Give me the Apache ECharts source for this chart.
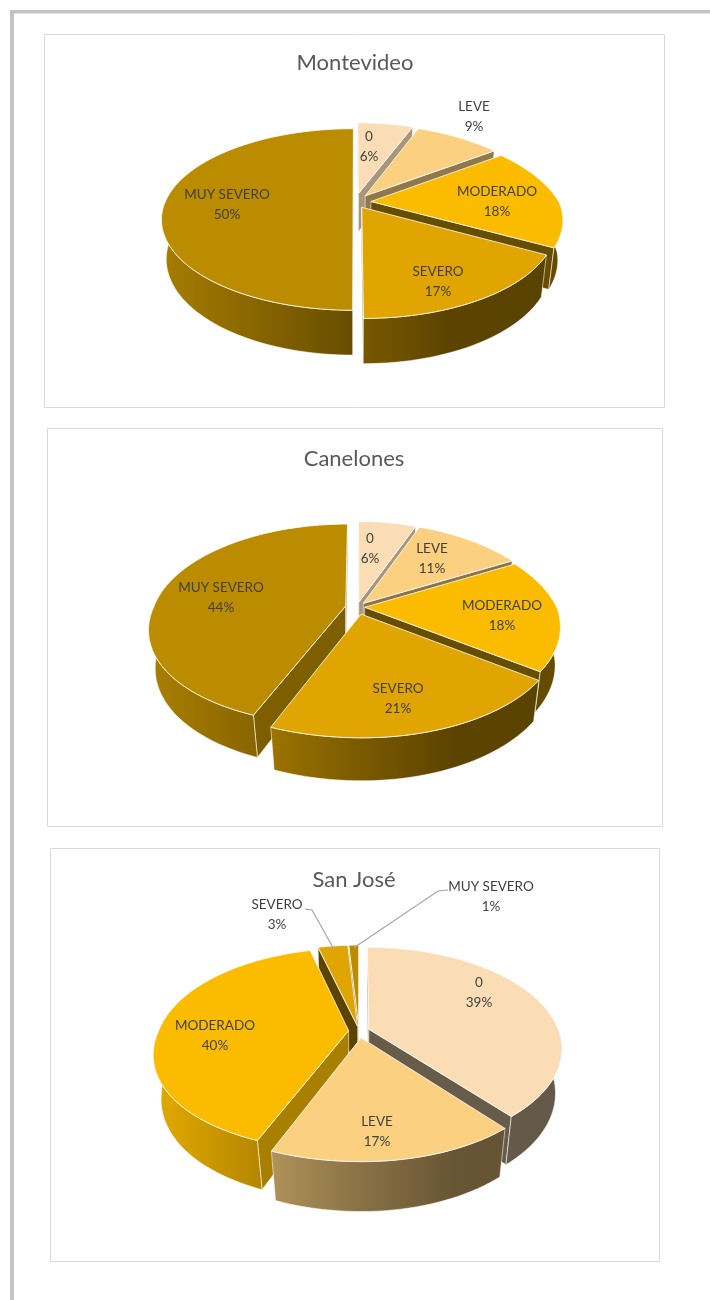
<!DOCTYPE html>
<html>
<head>
<meta charset="utf-8">
<style>html,body{margin:0;padding:0;background:#fff}#chart{width:710px;height:1300px}</style>
<script src="https://cdn.jsdelivr.net/npm/echarts@6/dist/echarts.min.js"></script>
</head>
<body>
<div id="chart"></div>
<script>
// Severity categories shared by the three departments
const categories = ['0', 'LEVE', 'MODERADO', 'SEVERO', 'MUY SEVERO'];

// Percentage of cases per category
const valuesMontevideo = [6, 9, 18, 17, 50];
const valuesCanelones = [6, 11, 18, 21, 44];
const valuesSanJose = [39, 17, 40, 3, 1];

const departments = ['Montevideo', 'Canelones', 'San José'];

// Fill of each category's top face
const sliceColors = ['#FADDB4', '#FBD080', '#FBBC00', '#E0A500', '#BB8C00'];

// Drawing layout of each pie: panel box, projection and per-slice offsets
const layouts = [
  { box: [44, 34, 620, 373], title: [355, 63], cx: 355, cy: 202, radius: 188, tilt: 0.465, depth: 0.24, rearDist: 3.5, frontLeftDist: 4.6,
    explode: [0.10, 0.09, 0.085, 0.07, 0.01],
    labels: [[369, 147], [474, 117], [497, 202], [438, 282], [227, 205]] },
  { box: [47, 428, 615, 398], title: [354, 459], cx: 357, cy: 607, radius: 192, tilt: 0.508, depth: 0.235, rearDist: 3.6, frontLeftDist: 3.8,
    explode: [0.05, 0.05, 0.04, 0.075, 0.06],
    labels: [[370, 549], [432, 559], [502, 616], [398, 699], [221, 598]] },
  { box: [50, 848, 609, 413], title: [354, 880], cx: 359, cy: 1031, radius: 190, tilt: 0.515, depth: 0.28, rearDist: 4.6, frontLeftDist: 3.8,
    explode: [0.055, 0.07, 0.055, 0.05, 0.05],
    labels: [[479, 993], [377, 1132], [215, 1036], [277, 915], [491, 897]],
    leaders: { 3: [[305, 909], [312, 910]], 4: [[448, 890], [438, 891]] } }
];
const allValues = [valuesMontevideo, valuesCanelones, valuesSanJose];

const CAMERA_DIST = 4.6;
const ARC_STEP = Math.PI / 90;

function shade(hex, k) {
  const n = parseInt(hex.slice(1), 16);
  const c = [(n >> 16) & 255, (n >> 8) & 255, n & 255].map(v => Math.round(v * k));
  return 'rgb(' + c.join(',') + ')';
}

// Curved sides darken from left to right across the whole pie
function sideFill(color, L) {
  return {
    type: 'linear', global: true,
    x: L.cx - L.radius, y: 0, x2: L.cx + L.radius, y2: 0,
    colorStops: [
      { offset: 0, color: shade(color, 0.88) },
      { offset: 0.5, color: shade(color, 0.55) },
      { offset: 0.75, color: shade(color, 0.41) },
      { offset: 1, color: shade(color, 0.40) }
    ]
  };
}

// Cut faces are lit according to the direction they face (degrees, clockwise from the back)
function wallFill(color, normal) {
  const t = Math.min(1, Math.max(0, (normal - 110) / 90));
  return shade(color, 0.68 - 0.27 * t);
}

function makeProjector(L) {
  const sinE = L.tilt, cosE = Math.sqrt(1 - sinE * sinE);
  return function (x, y, z) {
    const w = y * cosE + z * sinE;
    const v = -y * sinE + z * cosE;
    const f = 1 / (1 - w / CAMERA_DIST);
    // Horizontal foreshortening differs slightly in the rear right and front left quarters
    let fx = f;
    if (x > 0 && w < 0) fx = 1 / (1 - w / L.rearDist);
    if (x < 0 && w > 0) fx = 1 / (1 - w / L.frontLeftDist);
    return [L.cx + L.radius * x * fx, L.cy - L.radius * v * f];
  };
}

// Builds the geometry of every slice from the values
function buildSlices(values, L) {
  const total = values.reduce((a, b) => a + b, 0);
  let acc = 0;
  return values.map((v, i) => {
    const a0 = acc / total * Math.PI * 2;
    acc += v;
    const a1 = acc / total * Math.PI * 2;
    const mid = (a0 + a1) / 2;
    const e = L.explode[i];
    return { index: i, value: v, a0, a1, mid, ox: e * Math.sin(mid), oy: -e * Math.cos(mid) };
  });
}

function sliceElements(s, L) {
  const P = makeProjector(L);
  const color = sliceColors[s.index];
  const h = L.depth;
  const n = Math.max(2, Math.ceil((s.a1 - s.a0) / ARC_STEP));
  const rim = [];
  for (let k = 0; k <= n; k++) {
    const a = s.a0 + (s.a1 - s.a0) * k / n;
    rim.push([s.ox + Math.sin(a), s.oy - Math.cos(a)]);
  }
  const els = [];
  const edge = 'rgba(255,255,255,0.7)';
  const sinE = L.tilt, cosE = Math.sqrt(1 - sinE * sinE);
  const cam = [0, cosE * CAMERA_DIST, sinE * CAMERA_DIST];
  const tip = [s.ox, s.oy];

  // Cut faces, drawn only when they turn towards the camera
  const wall = (p, nx, ny, normalDeg) => {
    const facing = nx * (cam[0] - p[0]) + ny * (cam[1] - p[1]) > 0;
    if (!facing) return;
    els.push({
      type: 'polygon', silent: true,
      shape: { points: [P(tip[0], tip[1], 0), P(p[0], p[1], 0), P(p[0], p[1], -h), P(tip[0], tip[1], -h)] },
      style: { fill: wallFill(color, normalDeg), stroke: edge, lineWidth: 0.8 }
    });
  };
  const deg = 180 / Math.PI;
  wall(rim[0], -Math.cos(s.a0), -Math.sin(s.a0), (s.a0 * deg - 90 + 360) % 360);
  wall(rim[n], Math.cos(s.a1), Math.sin(s.a1), (s.a1 * deg + 90) % 360);

  // Outer curved band on the near half of the disc
  const near = rim.filter(p => p[1] - s.oy > -0.02);
  if (near.length > 1) {
    const pts = near.map(p => P(p[0], p[1], 0)).concat(near.slice().reverse().map(p => P(p[0], p[1], -h)));
    els.push({
      type: 'polygon', silent: true, shape: { points: pts },
      style: { fill: sideFill(color, L), stroke: edge, lineWidth: 0.8 }
    });
  }

  // Top face
  const top = [P(tip[0], tip[1], 0)].concat(rim.map(p => P(p[0], p[1], 0)));
  els.push({
    type: 'polygon', silent: true, shape: { points: top },
    style: { fill: color, stroke: 'rgba(255,255,255,0.8)', lineWidth: 1 }
  });
  return els;
}

function labelElements(s, L) {
  const P = makeProjector(L);
  const els = [];
  const pos = L.labels[s.index];
  els.push({
    type: 'text', silent: true, z2: 1000, x: pos[0], y: pos[1],
    style: {
      text: categories[s.index] + '\n' + s.value + '%',
      fill: '#404040', font: '13.5px Lato', lineHeight: 20,
      align: 'center', verticalAlign: 'middle'
    }
  });
  const lead = L.leaders && L.leaders[s.index];
  if (lead) {
    const end = P(s.ox + 0.96 * Math.sin(s.mid), s.oy - 0.96 * Math.cos(s.mid), 0);
    els.push({
      type: 'polyline', silent: true, z2: 999,
      shape: { points: lead.concat([end]) },
      style: { stroke: '#A6A6A6', lineWidth: 1.2, fill: 'none' }
    });
  }
  return els;
}

const series = layouts.map((L, p) => {
  const slices = buildSlices(allValues[p], L);
  // Far slices are painted first so nearer ones overlap them
  const order = slices.slice().sort((a, b) => a.oy - b.oy);
  return {
    type: 'custom',
    coordinateSystem: 'none',
    silent: true,
    animation: false,
    data: order.map(s => ({ name: categories[s.index], value: s.value })),
    renderItem: function (params) {
      const s = order[params.dataIndex];
      const body = sliceElements(s, L);
      body.forEach(el => { el.z2 = params.dataIndex * 2 + 1; });
      return { type: 'group', children: body.concat(labelElements(s, L)) };
    }
  };
});

const panels = layouts.map(L => ({
  type: 'rect', silent: true, z: -1,
  shape: { x: L.box[0] + 0.5, y: L.box[1] + 0.5, width: L.box[2], height: L.box[3] },
  style: { fill: '#fff', stroke: '#D9D9D9', lineWidth: 1 }
}));

const frame = [
  { type: 'rect', silent: true, z: -1, shape: { x: 10, y: 10, width: 700, height: 3.5 }, style: { fill: '#C3C3C3' } },
  { type: 'rect', silent: true, z: -1, shape: { x: 10, y: 10, width: 4, height: 1290 }, style: { fill: '#C3C3C3' } }
];

const chart = echarts.init(document.getElementById('chart'));
chart.setOption({
  animation: false,
  backgroundColor: '#fff',
  title: departments.map((d, i) => ({
    text: d,
    left: layouts[i].title[0],
    top: layouts[i].title[1] - 13,
    textAlign: 'center',
    padding: 0,
    textStyle: { fontFamily: 'Lato', fontSize: 22, fontWeight: 'normal', color: '#595959', lineHeight: 26 }
  })),
  graphic: { elements: frame.concat(panels) },
  series: series
});
</script>
</body>
</html>
